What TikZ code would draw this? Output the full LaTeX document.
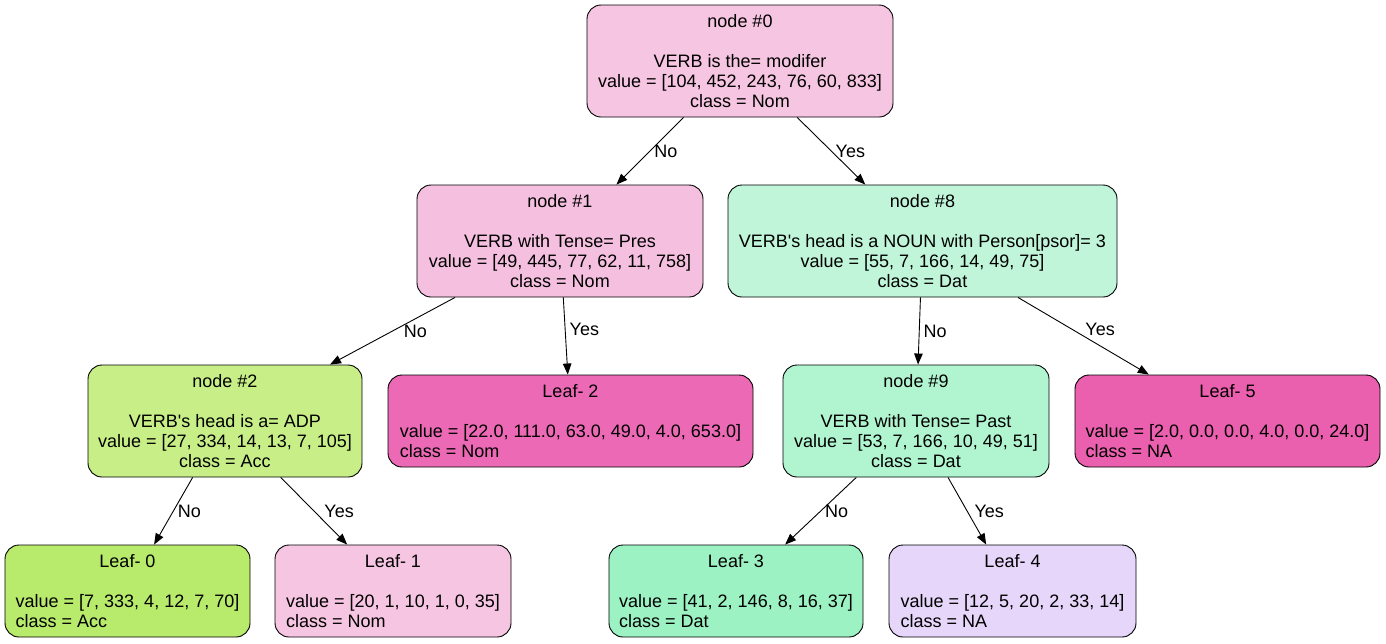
\documentclass[tikz,border=0pt]{standalone}
\usepackage{fontspec}
\setmainfont{Liberation Sans}
\usetikzlibrary{arrows.meta}
\definecolor{nomA}{RGB}{246,197,225}
\definecolor{nomB}{RGB}{245,192,223}
\definecolor{nomC}{RGB}{236,106,181}
\definecolor{naA}{RGB}{234,95,174}
\definecolor{naB}{RGB}{230,214,249}
\definecolor{datA}{RGB}{192,245,217}
\definecolor{datB}{RGB}{176,245,208}
\definecolor{datC}{RGB}{156,242,195}
\definecolor{accA}{RGB}{200,239,135}
\definecolor{accB}{RGB}{184,234,108}
\tikzset{>={Triangle[length=11pt,width=8.5pt]}}
\tikzset{
    treebox/.style={draw,line width=0.9pt,rounded corners=14pt,inner sep=0pt,
        font=\fontsize{18}{20}\selectfont},
    splitnode/.style={treebox,align=center,minimum height=112pt},
    leafnode/.style={treebox,minimum height=92pt},
    edgelbl/.style={midway,anchor=west,inner sep=4pt,font=\fontsize{18}{20}\selectfont}
}
\newcommand{\leaftext}[3]{\raisebox{-2pt}[\height][\depth]{\begin{tabular}{@{}l@{}}\multicolumn{1}{@{}c@{}}{#1}\\[20pt]#2\\#3\end{tabular}}}

\begin{document}
\begin{tikzpicture}[x=1pt,y=-1pt]
    \useasboundingbox (0,0) rectangle (1386,643);
    % splits
    \node[splitnode,fill=nomA,minimum width=306pt] (n0) at (740,61) {node \#0\\[20pt]VERB is the= modifer\\value = [104, 452, 243, 76, 60, 833]\\class = Nom};
    \node[splitnode,fill=nomB,minimum width=286pt] (n1) at (560,241) {node \#1\\[20pt]VERB with Tense= Pres\\value = [49, 445, 77, 62, 11, 758]\\class = Nom};
    \node[splitnode,fill=datA,minimum width=389pt] (n8) at (922.5,241) {node \#8\\[20pt]VERB\textquotesingle s head is a NOUN with Person[psor]= 3\\value = [55, 7, 166, 14, 49, 75]\\class = Dat};
    \node[splitnode,fill=accA,minimum width=274pt] (n2) at (225,421) {node \#2\\[20pt]VERB\textquotesingle s head is a= ADP\\value = [27, 334, 14, 13, 7, 105]\\class = Acc};
    \node[splitnode,fill=datB,minimum width=266pt] (n9) at (916,421) {node \#9\\[20pt]VERB with Tense= Past\\value = [53, 7, 166, 10, 49, 51]\\class = Dat};
    % leaves
    \node[leafnode,fill=nomC,minimum width=365pt] (l2) at (570.5,421) {\leaftext{Leaf- 2}{value = [22.0, 111.0, 63.0, 49.0, 4.0, 653.0]}{class = Nom}};
    \node[leafnode,fill=naA,minimum width=305pt] (l5) at (1227.5,421) {\leaftext{Leaf- 5}{value = [2.0, 0.0, 0.0, 4.0, 0.0, 24.0]}{class = NA}};
    \node[leafnode,fill=accB,minimum width=245pt] (l0) at (127.5,591) {\leaftext{Leaf- 0}{value = [7, 333, 4, 12, 7, 70]}{class = Acc}};
    \node[leafnode,fill=nomA,minimum width=236pt] (l1) at (393,591) {\leaftext{Leaf- 1}{value = [20, 1, 10, 1, 0, 35]}{class = Nom}};
    \node[leafnode,fill=datC,minimum width=254pt] (l3) at (736,591) {\leaftext{Leaf- 3}{value = [41, 2, 146, 8, 16, 37]}{class = Dat}};
    \node[leafnode,fill=naB,minimum width=247pt] (l4) at (1012.5,591) {\leaftext{Leaf- 4}{value = [12, 5, 20, 2, 33, 14]}{class = NA}};
    \path[->,line width=0.9pt]
        (n0) edge node[edgelbl] {No} (n1)
        (n0) edge node[edgelbl] {Yes} (n8)
        (n1) edge node[edgelbl,xshift=7pt] {No} (n2)
        (n1) edge node[edgelbl,pos=.42] {Yes} (l2)
        (n8) edge node[edgelbl] {No} (n9)
        (n8) edge node[edgelbl,pos=.42,xshift=8pt] {Yes} (l5)
        (n2) edge node[edgelbl] {No} (l0)
        (n2) edge node[edgelbl,xshift=6pt] {Yes} (l1)
        (n9) edge node[edgelbl] {No} (l3)
        (n9) edge node[edgelbl,xshift=3pt] {Yes} (l4);
\end{tikzpicture}
\end{document}
